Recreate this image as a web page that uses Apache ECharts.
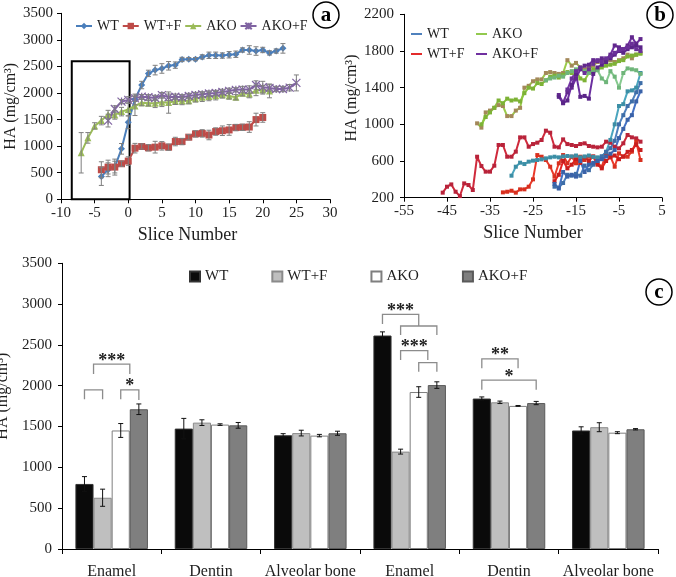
<!DOCTYPE html>
<html><head><meta charset="utf-8">
<script src="https://cdn.jsdelivr.net/npm/echarts@6/dist/echarts.min.js"></script>
<style>html,body{margin:0;padding:0;background:#fff}#chart{width:676px;height:577px}</style>
</head><body><div id="chart"></div>
<script>
// ---------------- Panel a data (x start, values, errors) ----------------
const aWTStart = -4;
const aWT = [431,556,606,950,1450,1880,2150,2369,2431,2462,2512,2525,2631,2637,2637,2680,2710,2710,2705,2720,2730,2810,2810,2790,2810,2755,2790,2840];
const aWTErr = [170,130,110,100,120,100,70,60,90,90,80,60,40,30,30,40,60,60,50,60,60,40,80,80,50,40,40,90];
const aWTFStart = -4;
const aWTF = [556,606,606,669,719,962,994,969,981,1006,981,1087,1087,1169,1231,1240,1210,1275,1290,1305,1350,1355,1360,1500,1540];
const aWTFErr = [150,130,150,50,80,90,50,60,110,80,60,80,60,50,60,70,90,70,90,100,60,60,100,120,90];
const aAKOStart = -7;
const aAKO = [875,1156,1381,1481,1594,1588,1650,1690,1756,1819,1806,1806,1825,1820,1844,1850,1856,1890,1920,1935,1950,1965,1945,1920,1995,1980,2050,2060,2040];
const aAKOErr = [380,100,60,80,80,80,80,120,180,60,50,80,80,200,60,70,60,60,80,80,80,60,60,50,50,70,100,80,130];
const aAKOFStart = -3;
const aAKOF = [1481,1700,1838,1870,1900,1931,1920,1906,1960,1920,1930,1920,1944,1962,1975,1990,2000,2020,2040,2060,2065,2065,2150,2110,2095,2075,2075,2100,2190];
const aAKOFErr = [120,60,40,60,60,40,50,50,50,60,50,50,50,50,50,50,50,50,50,40,60,70,80,110,60,50,50,60,150];
const aBox = [-8.4, 0.2, 0, 2600]; // highlighted region: x from, x to, y from, y to
const aXTicks = [-10, 30, 5];
const aYTicks = [0, 3500, 500];

// ---------------- Panel b data (replicate profiles) ----------------
const bWT1Start = -30;
const bWT1 = [440,538,582,567,593,604,611,618,629,640,647,640,650,655,650,660,640,650,660,645,640,650,700,830,1000,1200,1220,1360,1370,1400,1560];
const bWT2Start = -20;
const bWT2 = [320,310,360,450,440,460,440,550,500,560,600,650,700,740,820,1000,1100,1200,1250,1350,1450];
const bWT3Start = -20;
const bWT3 = [350,300,480,430,450,430,600,480,560,580,600,620,650,680,720,850,950,1050,1100,1250,1360];
const bWTF1Start = -46;
const bWTF1 = [255,320,345,265,218,356,338,284,647,545,484,484,549,775,775,647,647,702,858,858,756,785,800,829,931,909,756,749,836,785,775,764,785,793,764,756,749,756,811,800,756,738,793,884,858,847,811];
const bWTF2Start = -32;
const bWTF2 = [258,265,276,255,291,291,320,400,665,647,611,538,429,575,665,575,647,575,647,611,647,647,575,538,684,647,538,684,647,647,702,811,611];
const bWTF3Start = -20;
const bWTF3 = [380,450,600,520,560,620,580,640,600,650,560,520,600,640,660,620,650,700,720,780,720];
const bAKO1Start = -38;
const bAKO1 = [1011,964,1130,1150,1180,1210,1200,1090,1090,1150,1180,1400,1420,1470,1490,1490,1560,1570,1560,1550,1560,1700,1640,1670,1620,1600,1620,1640,1680,1700,1690,1700,1680,1700,1720,1760,1720,1760,1780];
const bAKO2Start = -37;
const bAKO2 = [1000,1080,1130,1180,1260,1230,1280,1260,1270,1250,1340,1400,1390,1450,1440,1480,1520,1530,1510,1540,1570,1560,1590,1500,1480,1560,1600,1600,1620,1640,1650,1660,1690,1700,1740,1750,1760,1770];
const bAKO3Start = -22;
const bAKO3 = [1480,1500,1510,1530,1520,1560,1580,1600,1610,1580,1560,1570,1590,1500,1460,1580,1520,1400,1560,1610,1600,1590,1550];
const bAKOF1Start = -19;
const bAKOF1 = [1320,1240,1350,1400,1500,1600,1640,1650,1700,1690,1720,1700,1760,1860,1840,1820,1860,1950,1880,1930];
const bAKOF2Start = -19;
const bAKOF2 = [1300,1230,1260,1430,1550,1300,1310,1280,1550,1620,1650,1680,1720,1760,1800,1780,1820,1840,1860,1840];
const bAKOF3Start = -17;
const bAKOF3 = [1380,1500,1580,1620,1560,1600,1660,1700,1680,1720,1740,1780,1810,1820,1840,1880,1820,1800];
const bXTicks = [-55,-45,-35,-25,-15,-5,5];
const bYTicks = [200,600,1000,1400,1800,2200];

// ---------------- Panel c data ----------------
const cCategories = ['Enamel','Dentin','Alveolar bone','Enamel','Dentin','Alveolar bone'];
const cGroups = ['WT','WT+F','AKO','AKO+F'];
const cWT   = [797,1475,1393,2615,1843,1452];
const cWTF  = [628,1548,1420,1193,1797,1492];
const cAKO  = [1452,1524,1389,1923,1753,1425];
const cAKOF = [1712,1515,1418,2008,1788,1467];
const cWTErr   = [90,125,20,45,20,45];
const cWTFErr  = [105,35,35,30,15,55];
const cAKOErr  = [85,10,15,65,5,12];
const cAKOFErr = [65,35,25,40,20,8];
// brackets: [category, from bar pos, to bar pos, top value, left leg bottom, right leg bottom]
const cBrackets = [
  [0, 0, 1, 1950, 1835, 1835],
  [0, 2, 3, 1950, 1835, 1825],
  [0, 0.5, 2.5, 2265, 2145, 2145],
  [3, 0, 2, 2875, 2755, 2732],
  [3, 1, 3, 2732, 2622, 2622],
  [3, 1, 2.5, 2430, 2315, 2315],
  [3, 2, 3, 2282, 2172, 2172],
  [4, 0, 2, 2330, 2215, 2215],
  [4, 0, 3, 2070, 1950, 1950]
];
const cBracketLabels = ['', '*', '***', '***', '', '***', '', '**', '*'];
const cYTicks = [0, 3500, 500];

// ---------------- helpers ----------------
const FONT = 'Liberation Serif';
const TXT = '#1e1e1e';
const seq = (s, v) => v.map((y, i) => [s + i, y]);
const seqErr = (s, v, e) => v.map((y, i) => [s + i, y, e[i]]);
const BAR_GAP = 0.27;
const plain = v => String(v);

function aErrRender(params, api) {
  const x = api.value(0), y = api.value(1), e = api.value(2);
  const pt = api.coord([x, y + e]), pb = api.coord([x, y - e]);
  const st = {stroke: '#7f7f7f', lineWidth: 1};
  const h = 2.5;
  return {type: 'group', children: [
    {type: 'line', shape: {x1: pt[0], y1: pt[1], x2: pb[0], y2: pb[1]}, style: st},
    {type: 'line', shape: {x1: pt[0]-h, y1: pt[1], x2: pt[0]+h, y2: pt[1]}, style: st},
    {type: 'line', shape: {x1: pb[0]-h, y1: pb[1], x2: pb[0]+h, y2: pb[1]}, style: st}
  ]};
}
function barX(api, cat, pos) {
  const band = api.size([1, 0])[0];
  const bw = band * (1 - BAR_GAP) / 4;
  const c = api.coord([cat, 0]);
  return c[0] - 2 * bw + (pos + 0.5) * bw;
}
function cErrRender(params, api) {
  const cat = api.value(0), bi = api.value(1), v = api.value(2), e = api.value(3);
  const x = barX(api, cat, bi);
  const yt = api.coord([cat, v + e])[1], yb = api.coord([cat, v - e])[1];
  const st = {stroke: '#111', lineWidth: 1};
  const h = 2.5;
  return {type: 'group', children: [
    {type: 'line', shape: {x1: x, y1: yt, x2: x, y2: yb}, style: st},
    {type: 'line', shape: {x1: x-h, y1: yt, x2: x+h, y2: yt}, style: st},
    {type: 'line', shape: {x1: x-h, y1: yb, x2: x+h, y2: yb}, style: st}
  ]};
}
function bracketRender(params, api) {
  const cat = api.value(0), l = api.value(1), r = api.value(2);
  const top = api.value(3), lb = api.value(4), rb = api.value(5);
  const xl = barX(api, cat, l), xr = barX(api, cat, r);
  const yt = api.coord([cat, top])[1], yl = api.coord([cat, lb])[1], yr = api.coord([cat, rb])[1];
  const children = [{type: 'polyline', shape: {points: [[xl, yl], [xl, yt], [xr, yt], [xr, yr]]},
    style: {stroke: '#8c8c8c', lineWidth: 1.3, fill: null}}];
  const lab = cBracketLabels[params.dataIndex];
  if (lab) children.push({type: 'text', style: {text: lab, x: (xl + xr) / 2, y: yt - 3,
    align: 'center', verticalAlign: 'middle', textAlign: 'center', textVerticalAlign: 'middle',
    font: 'bold 18px ' + FONT, fill: '#222'}});
  return {type: 'group', children};
}

const axisLineStyle = {color: '#000', width: 1};
function valAxis(grid, min, max, interval, extra) {
  return Object.assign({
    type: 'value', gridIndex: grid, min, max, interval,
    axisLine: {show: true, onZero: false, lineStyle: axisLineStyle},
    axisTick: {show: true, length: 4, lineStyle: axisLineStyle},
    splitLine: {show: false},
    axisLabel: {color: TXT, fontFamily: FONT, fontSize: 15, margin: 8, formatter: plain},
    nameTextStyle: {color: TXT, fontFamily: FONT, fontSize: 16}
  }, extra || {});
}

// ---------------- series ----------------
const aColors = {WT: '#4A7EBB', 'WT+F': '#BE4B48', AKO: '#9BBB59', 'AKO+F': '#8064A2'};
const series = [];
function aLine(name, start, vals, symbol, size, extraItem) {
  return {type: 'line', name: 'a|' + name, xAxisIndex: 0, yAxisIndex: 0, data: seq(start, vals),
    symbol, symbolSize: size, lineStyle: {width: 2, color: aColors[name]},
    itemStyle: Object.assign({color: aColors[name]}, extraItem || {}), z: 3};
}
const wtLine = aLine('WT', aWTStart, aWT, 'diamond', 7);
wtLine.markArea = {silent: true, itemStyle: {color: 'rgba(0,0,0,0)', borderColor: '#000', borderWidth: 2},
  data: [[{xAxis: aBox[0], yAxis: aBox[2]}, {xAxis: aBox[1], yAxis: aBox[3]}]]};
series.push(wtLine);
series.push(aLine('WT+F', aWTFStart, aWTF, 'rect', 7));
series.push(aLine('AKO', aAKOStart, aAKO, 'triangle', 7));
series.push(aLine('AKO+F', aAKOFStart, aAKOF, 'path://M0,0L10,10M10,0L0,10M5,0L5,10', 8,
  {borderColor: aColors['AKO+F'], borderWidth: 1.2}));
series.push({type: 'custom', xAxisIndex: 0, yAxisIndex: 0, renderItem: aErrRender, z: 4,
  encode: {x: 0, y: 1},
  data: [].concat(seqErr(aWTStart, aWT, aWTErr), seqErr(aWTFStart, aWTF, aWTFErr),
    seqErr(aAKOStart, aAKO, aAKOErr), seqErr(aAKOFStart, aAKOF, aAKOFErr))});

function bLine(name, start, vals, color, mcolor) {
  return {type: 'line', name: 'b|' + name, xAxisIndex: 1, yAxisIndex: 1, data: seq(start, vals),
    symbol: 'rect', symbolSize: 4, lineStyle: {width: 2, color}, itemStyle: {color: mcolor}, z: 2};
}
series.push(bLine('WT+F', bWTF1Start, bWTF1, '#CF2A3C', '#B8233A'));
series.push(bLine('WT+F', bWTF2Start, bWTF2, '#EA3A2A', '#D8301F'));
series.push(bLine('WT+F', bWTF3Start, bWTF3, '#E42424', '#C81E1E'));
series.push(bLine('WT', bWT1Start, bWT1, '#4BA5BE', '#3C8EA5'));
series.push(bLine('WT', bWT2Start, bWT2, '#4F81BD', '#3E6EA8'));
series.push(bLine('WT', bWT3Start, bWT3, '#4472C4', '#3A62A8'));
series.push(bLine('AKO', bAKO1Start, bAKO1, '#9BCB4B', '#A3885A'));
series.push(bLine('AKO', bAKO2Start, bAKO2, '#8DC63F', '#7DB236'));
series.push(bLine('AKO', bAKO3Start, bAKO3, '#86C98F', '#6FB57A'));
series.push(bLine('AKO+F', bAKOF1Start, bAKOF1, '#7030A0', '#62288E'));
series.push(bLine('AKO+F', bAKOF2Start, bAKOF2, '#6B2FA0', '#5A2588'));
series.push(bLine('AKO+F', bAKOF3Start, bAKOF3, '#7A3BAA', '#6A3098'));

const cVals = [cWT, cWTF, cAKO, cAKOF];
const cErrs = [cWTErr, cWTFErr, cAKOErr, cAKOFErr];
const cFill = ['#0a0a0a', '#bfbfbf', '#ffffff', '#7f7f7f'];
const cBorder = ['#333333', '#8a8a8a', '#7f7f7f', '#5a5a5a'];
cGroups.forEach((g, i) => {
  series.push({type: 'bar', name: 'c|' + g, xAxisIndex: 2, yAxisIndex: 2, data: cVals[i],
    barGap: '0%', barCategoryGap: (BAR_GAP * 100) + '%',
    itemStyle: {color: cFill[i], borderColor: cBorder[i], borderWidth: 1}});
});
const cErrData = [];
cVals.forEach((vals, gi) => vals.forEach((v, ci) => cErrData.push([ci, gi, v, cErrs[gi][ci]])));
series.push({type: 'custom', xAxisIndex: 2, yAxisIndex: 2, renderItem: cErrRender, z: 5,
  encode: {x: 0, y: 2}, data: cErrData});
series.push({type: 'custom', xAxisIndex: 2, yAxisIndex: 2, renderItem: bracketRender, z: 5,
  encode: {x: 0, y: 3}, data: cBrackets});

// ---------------- option ----------------
const legText = {color: TXT, fontFamily: FONT, fontSize: 14};
const fmt = n => n.split('|')[1];
function circleLabel(cx, cy, t) {
  return [{type: 'circle', shape: {cx, cy, r: 13}, style: {fill: '#fff', stroke: '#000', lineWidth: 1.5}, z: 10},
    {type: 'text', x: cx, y: cy + 1, z: 11, style: {text: t, font: 'bold 21px ' + FONT, fill: '#000',
      align: 'center', verticalAlign: 'middle', textAlign: 'center', textVerticalAlign: 'middle'}}];
}

const option = {
  animation: false,
  backgroundColor: '#fff',
  grid: [
    {left: 61, top: 13.3, width: 269, height: 186, outerBoundsMode: 'none', containLabel: false},
    {left: 404, top: 14.3, width: 258, height: 183.4, outerBoundsMode: 'none', containLabel: false},
    {left: 62, top: 263.3, width: 596, height: 285.7, outerBoundsMode: 'none', containLabel: false}
  ],
  xAxis: [
    valAxis(0, aXTicks[0], aXTicks[1], aXTicks[2], {
      axisLine: {show: true, onZero: false, lineStyle: axisLineStyle},
      axisLabel: {color: TXT, fontFamily: FONT, fontSize: 15, margin: 6, formatter: plain},
      name: 'Slice Number', nameLocation: 'middle', nameGap: 27,
      nameTextStyle: {color: TXT, fontFamily: FONT, fontSize: 18, padding: [0, 16, 0, 0]}}),
    valAxis(1, bXTicks[0], bXTicks[bXTicks.length - 1], 10, {
      axisTick: {show: true, length: 4, lineStyle: axisLineStyle, customValues: bXTicks},
      axisLabel: {color: TXT, fontFamily: FONT, fontSize: 15, margin: 6, customValues: bXTicks, formatter: plain},
      name: 'Slice Number', nameLocation: 'middle', nameGap: 27,
      nameTextStyle: {color: TXT, fontFamily: FONT, fontSize: 18}}),
    {type: 'category', gridIndex: 2, data: cCategories,
      axisLine: {show: true, lineStyle: axisLineStyle},
      axisTick: {show: true, length: 5, lineStyle: axisLineStyle},
      axisLabel: {color: TXT, fontFamily: FONT, fontSize: 16, margin: 15, interval: 0},
      splitLine: {show: false}}
  ],
  yAxis: [
    valAxis(0, aYTicks[0], aYTicks[1], aYTicks[2], {
      name: 'HA (mg/cm³)', nameLocation: 'middle', nameGap: 42,
      nameTextStyle: {color: TXT, fontFamily: FONT, fontSize: 16}}),
    valAxis(1, bYTicks[0], bYTicks[bYTicks.length - 1], 400, {
      axisTick: {show: true, length: 4, lineStyle: axisLineStyle, customValues: bYTicks},
      axisLabel: {color: TXT, fontFamily: FONT, fontSize: 15, margin: 10, customValues: bYTicks, formatter: plain},
      name: 'HA (mg/cm³)', nameLocation: 'middle', nameGap: 44,
      nameTextStyle: {color: TXT, fontFamily: FONT, fontSize: 16, padding: [0, 0, 0, 16]}}),
    valAxis(2, cYTicks[0], cYTicks[1], cYTicks[2], {
      name: 'HA (mg/cm³)', nameLocation: 'middle', nameGap: 39,
      axisLabel: {color: TXT, fontFamily: FONT, fontSize: 15, margin: 10, formatter: plain},
      nameTextStyle: {color: TXT, fontFamily: FONT, fontSize: 16, padding: [0, 0, 0, 20]}})
  ],
  legend: [
    {data: ['a|WT', 'a|WT+F', 'a|AKO', 'a|AKO+F'], formatter: fmt, left: 75, top: 19,
      itemWidth: 16, itemHeight: 8, itemGap: 3, textStyle: legText, selectedMode: false, padding: 0},
    {data: [{name: 'b|WT', icon: 'rect', itemStyle: {color: '#4F81BD'}},
            {name: 'b|WT+F', icon: 'rect', itemStyle: {color: '#E32B2B'}}],
      formatter: fmt, orient: 'vertical', left: 411, top: 26, itemWidth: 11, itemHeight: 2, itemGap: 4,
      textStyle: Object.assign({lineHeight: 16}, legText), selectedMode: false, padding: 0},
    {data: [{name: 'b|AKO', icon: 'rect', itemStyle: {color: '#92C94E'}},
            {name: 'b|AKO+F', icon: 'rect', itemStyle: {color: '#7030A0'}}],
      formatter: fmt, orient: 'vertical', left: 476, top: 26, itemWidth: 11, itemHeight: 2, itemGap: 4,
      textStyle: Object.assign({lineHeight: 16}, legText), selectedMode: false, padding: 0},
    {data: cGroups.map(g => ({name: 'c|' + g, icon: 'rect'})), formatter: fmt, left: 189, top: 269,
      itemWidth: 10, itemHeight: 10, itemGap: 43,
      textStyle: {color: TXT, fontFamily: FONT, fontSize: 15}, selectedMode: false, padding: 0}
  ],
  graphic: [].concat(circleLabel(326, 15, 'a'), circleLabel(660, 15, 'b'), circleLabel(659, 292, 'c')),
  series
};
const chart = echarts.init(document.getElementById('chart'), null, {renderer: 'canvas'});
chart.setOption(option);
</script></body></html>
